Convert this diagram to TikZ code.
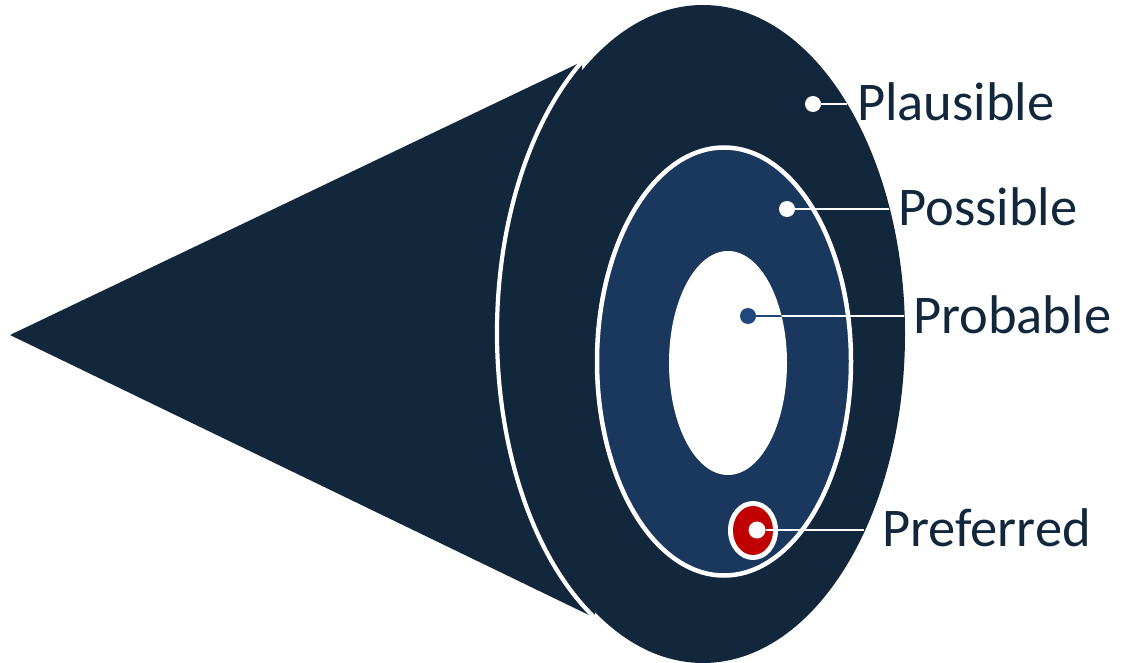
\documentclass[tikz,border=0pt]{standalone}
\usepackage{fontspec}
\setmainfont{Carlito}
\usetikzlibrary{positioning}
\definecolor{NavyDark}{RGB}{18,39,59}
\definecolor{NavyMid}{RGB}{26,55,93}
\definecolor{NavyDot}{RGB}{31,73,125}
\definecolor{DeepRed}{RGB}{192,0,0}

\begin{document}
\begin{tikzpicture}[x=1pt, y=-1pt,
		leader/.style={white, line width=2pt},
		dot/.style={circle, inner sep=0pt, minimum size=16pt},
		tag/.style={anchor=base west, inner sep=0pt, text=NavyDark, font=\fontsize{54.5}{60}\selectfont}]
		\useasboundingbox (0,0) rectangle (1122,663);
		\pgfmathsetmacro{\rimx}{194}
		\pgfmathsetmacro{\rimy}{328}
		
		% cone and disc
		\coordinate (apex) at (10,335);
		\coordinate (rimtop) at ({691+\rimx*cos(235.8)}, {333+\rimy*sin(235.8)});
		\coordinate (rimbot) at ({691+\rimx*cos(119.7)}, {333+\rimy*sin(119.7)});
		\fill[NavyDark] (apex) -- (rimtop) -- (rimbot) -- cycle;
		\fill[NavyDark] (703,334) ellipse (202 and 329);
		\draw[white, line width=4.2pt] (rimbot) arc[start angle=119.7, end angle=235.8, x radius=\rimx, y radius=\rimy];
		
		% rings
		\filldraw[fill=NavyMid, draw=white, line width=4.5pt] (724,361.5) ellipse (127 and 214);
		\fill[white] (728,363) ellipse (59 and 112);
		\fill[white] (753,530.5) ellipse (25 and 29.5);
		\fill[DeepRed] (753,530.5) ellipse (20 and 24.5);
		
		% dots
		\node[dot, fill=white] (plaus) at (813,104) {};
		\node[dot, fill=white] (poss) at (787,209) {};
		\node[dot, fill=NavyDot] (prob) at (748,316) {};
		\node[dot, fill=white, minimum size=17pt] (pref) at (757,530) {};
		
		\coordinate (plausend) at (847,104);
		\coordinate (possend) at (889,209);
		\coordinate (probend) at (904,316);
		\coordinate (prefend) at (864,530);
		
		% leaders
		\draw[leader] (plaus) -- (plausend);
		\draw[leader] (poss) -- (possend);
		\draw[leader] (prob) -- (probend);
		\draw[leader] (pref) -- (prefend);
		\begin{scope}
			\clip (728,363) ellipse (59 and 112);
			\draw[NavyDot, line width=2.5pt] (prob) -- (probend);
		\end{scope}
		
		% labels
		\node[tag] (plauslbl) at (857,121) {Plausible};
		\node[tag] (posslbl) at (898,226) {Possible};
		\node[tag] (problbl) at (913,333) {Probable};
		\node[tag] (preflbl) at (882,546) {Preferred};
	\end{tikzpicture}
\end{document}
